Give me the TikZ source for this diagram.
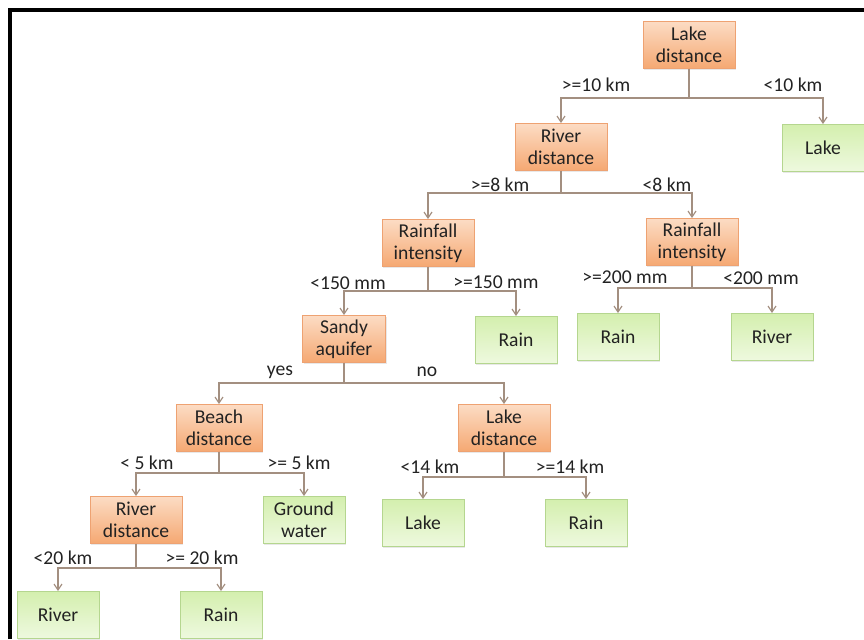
\documentclass[tikz,border=0pt]{standalone}
\usepackage{fontspec}
\setmainfont{Carlito}
\usepackage{tikz}
\usetikzlibrary{arrows.meta, positioning, shadows}
\usepackage{xcolor}

\definecolor{testtop}{HTML}{FCDCC4}
\definecolor{testbot}{HTML}{F5A872}
\definecolor{testline}{HTML}{EEA272}
\definecolor{leaftop}{HTML}{D4EFAE}
\definecolor{leafbot}{HTML}{EEF9DF}
\definecolor{leafline}{HTML}{B5D68F}
\definecolor{branch}{HTML}{A38F80}
\definecolor{txt}{HTML}{222222}

\begin{document}
\begin{tikzpicture}[x=0.5pt, y=-0.5pt,
    font=\fontsize{9.8}{11}\selectfont, text=txt,
    test/.style={draw=testline, top color=testtop, bottom color=testbot,
        rectangle, align=center, inner sep=0pt,
        minimum width=46pt, minimum height=23.5pt,
        drop shadow={opacity=0.18, shadow xshift=0.6pt, shadow yshift=-0.6pt}},
    leaf/.style={draw=leafline, top color=leaftop, bottom color=leafbot,
        rectangle, align=center, inner sep=0pt,
        minimum width=41pt, minimum height=23.5pt,
        drop shadow={opacity=0.18, shadow xshift=0.6pt, shadow yshift=-0.6pt}},
    arr/.style={draw=branch, line width=0.6pt,
        -{Straight Barb[length=3pt, width=4pt]}},
    lbl/.style={inner sep=0pt}]
    \useasboundingbox (0,0) rectangle (864,639);
    % frame
    \draw[line width=1.6pt] (10,639) -- (10,10) -- (864,10);

    % decision nodes
    \node[test] (ld1) at (689,45) {Lake\\distance};
    \node[test] (rd1) at (561,147) {River\\distance};
    \node[test] (ri1) at (428,243) {Rainfall\\intensity};
    \node[test] (ri2) at (692,242) {Rainfall\\intensity};
    \node[test, minimum width=41.5pt] (sa) at (344,339) {Sandy\\aquifer};
    \node[test, minimum width=43pt] (bd) at (219,428) {Beach\\distance};
    \node[test] (ld2) at (504,428) {Lake\\distance};
    \node[test] (rd2) at (136,520) {River\\distance};

    % leaves
    \node[leaf] (lake1) at (823,148) {Lake};
    \node[leaf] (rain1) at (516,340) {Rain};
    \node[leaf] (rain2) at (618,337) {Rain};
    \node[leaf] (river1) at (772,337) {River};
    \node[leaf] (gw) at (304,520) {Ground\\water};
    \node[leaf] (lake2) at (423,523) {Lake};
    \node[leaf] (rain3) at (586,523) {Rain};
    \node[leaf] (river2) at (58,615) {River};
    \node[leaf] (rain4) at (221,615) {Rain};

    % branches
    \draw[arr] (ld1.south) -- ++(0,29) -| (rd1.north);
    \draw[arr] (ld1.south) -- ++(0,29) -| (lake1.north);
    \draw[arr] (rd1.south) -- ++(0,22) -| (ri1.north);
    \draw[arr] (rd1.south) -- ++(0,22) -| (ri2.north);
    \draw[arr] (ri1.south) -- ++(0,24) -| (sa.north);
    \draw[arr] (ri1.south) -- ++(0,24) -| (rain1.north);
    \draw[arr] (ri2.south) -- ++(0,22) -| (rain2.north);
    \draw[arr] (ri2.south) -- ++(0,22) -| (river1.north);
    \draw[arr] (sa.south) -- ++(0,20) -| (bd.north);
    \draw[arr] (sa.south) -- ++(0,20) -| (ld2.north);
    \draw[arr] (bd.south) -- ++(0,21) -| (rd2.north);
    \draw[arr] (bd.south) -- ++(0,21) -| (gw.north);
    \draw[arr] (ld2.south) -- ++(0,25) -| (lake2.north);
    \draw[arr] (ld2.south) -- ++(0,25) -| (rain3.north);
    \draw[arr] (rd2.south) -- ++(0,24) -| (river2.north);
    \draw[arr] (rd2.south) -- ++(0,24) -| (rain4.north);

    % branch labels
    \node[lbl] (l1) at (596,85) {>=10 km};
    \node[lbl] (l2) at (793,85) {<10 km};
    \node[lbl] (l3) at (500,185) {>=8 km};
    \node[lbl] (l4) at (667,185) {<8 km};
    \node[lbl] (l5) at (348,283) {<150 mm};
    \node[lbl] (l6) at (496,282) {>=150 mm};
    \node[lbl] (l7) at (625,277) {>=200 mm};
    \node[lbl] (l8) at (761,278) {<200 mm};
    \node[lbl] (l9) at (280,372) {yes};
    \node[lbl] (l10) at (427,372) {no};
    \node[lbl] (l11) at (147,463) {< 5 km};
    \node[lbl] (l12) at (299,463) {>= 5 km};
    \node[lbl] (l13) at (430,467) {<14 km};
    \node[lbl] (l14) at (570,467) {>=14 km};
    \node[lbl] (l15) at (63,558) {<20 km};
    \node[lbl] (l16) at (202,558) {>= 20 km};
\end{tikzpicture}
\end{document}
